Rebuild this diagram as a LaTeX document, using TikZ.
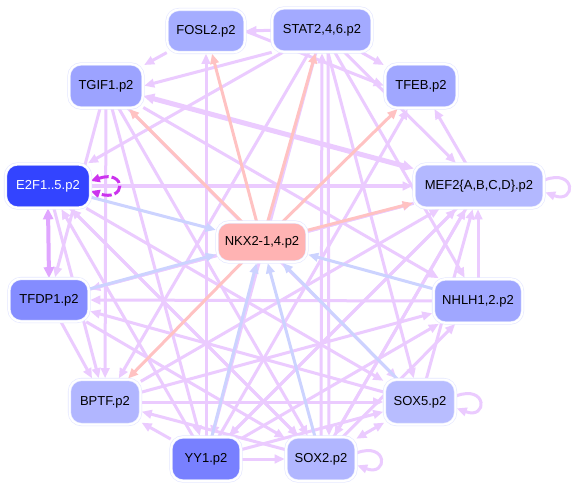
\documentclass[tikz,border=0pt]{standalone}
\usepackage{fontspec}
\setmainfont{Liberation Sans}
\usetikzlibrary{arrows.meta}
\pgfdeclarelayer{bg}
\pgfsetlayers{bg,main}
\definecolor{pur}{HTML}{EBCBFF}
\definecolor{pnk}{HTML}{FFC2C2}
\definecolor{blu}{HTML}{CCD3FF}
\definecolor{loopc}{HTML}{CC33EE}
\definecolor{edc}{HTML}{E0A6FF}
\definecolor{rim}{HTML}{E4E7FF}
\definecolor{cF}{HTML}{A5ADFF}
\definecolor{cS}{HTML}{A3AAFF}
\definecolor{cT}{HTML}{9CA3FF}
\definecolor{cB}{HTML}{A0A7FF}
\definecolor{cE}{HTML}{3344FF}
\definecolor{cM}{HTML}{B3B8FF}
\definecolor{cN}{HTML}{FFB3B3}
\definecolor{cD}{HTML}{848CFF}
\definecolor{cH}{HTML}{A0A7FF}
\definecolor{cP}{HTML}{B1B6FF}
\definecolor{cX}{HTML}{B8BDFF}
\definecolor{cY}{HTML}{7880FF}
\definecolor{cZ}{HTML}{B1B6FF}
\begin{document}
\begin{tikzpicture}[x=1pt,y=-1pt,
  nd/.style={draw=rim, line width=0.6pt, double=white, double distance=2pt,
    rounded corners=12pt, inner sep=0pt,
    font=\fontsize{13}{15}\selectfont, text=black},
  tip/.style={-{Triangle[length=10pt,width=8.5pt]}},
  pe/.style={draw=pur, line width=3pt, tip, shorten >=1pt},
  pk/.style={draw=pnk, line width=3pt, tip, shorten >=1pt},
  bl/.style={draw=blu, line width=3pt, tip, shorten >=1pt},
  thick2/.style={draw=pur, line width=5pt, {Triangle[length=11pt,width=10pt]}-{Triangle[length=11pt,width=10pt]}},
]
\useasboundingbox (0,0) rectangle (575,489);

\node[nd, fill=cF, minimum width=78pt, minimum height=43pt] (F) at (206,31) {FOSL2.p2};
\node[nd, fill=cS, minimum width=100pt, minimum height=44pt] (S) at (322,30) {STAT2,4,6.p2};
\node[nd, fill=cT, minimum width=74pt, minimum height=44pt] (T) at (106,86) {TGIF1.p2};
\node[nd, fill=cB, minimum width=72pt, minimum height=44pt] (B) at (421,86) {TFEB.p2};
\node[nd, fill=cE, minimum width=85pt, minimum height=44pt, text=white] (E) at (48,186) {E2F1..5.p2};
\node[nd, fill=cM, minimum width=130pt, minimum height=44pt] (M) at (479,186) {MEF2\{A,B,C,D\}.p2};
\node[nd, fill=cN, minimum width=90pt, minimum height=40pt] (N) at (262,242) {NKX2-1,4.p2};
\node[nd, fill=cD, minimum width=80pt, minimum height=43pt] (D) at (49,300) {TFDP1.p2};
\node[nd, fill=cH, minimum width=89pt, minimum height=44pt] (H) at (478,301) {NHLH1,2.p2};
\node[nd, fill=cP, minimum width=71pt, minimum height=45pt] (P) at (105,402) {BPTF.p2};
\node[nd, fill=cX, minimum width=71pt, minimum height=45pt] (X5) at (420,402) {SOX5.p2};
\node[nd, fill=cY, minimum width=70pt, minimum height=44pt] (Y) at (206,459) {YY1.p2};
\node[nd, fill=cZ, minimum width=70pt, minimum height=44pt] (X2) at (321,459) {SOX2.p2};

\begin{pgfonlayer}{bg}
\fill[white] (0,0) rectangle (575,489);
% purple edges
\draw[pe] (S) -- (F);
\draw[pe] (F) -- (T);
\draw[pe] (S.south west) -- (T.east);
\draw[pe] (S) -- (B);
\draw[pe] (F.east) -- (B.west);
\draw[pe] (S) -- (E);
\draw[thick2] (T) -- (M);
\draw[pe] (E) -- (M);
\draw[pe] (M) -- (B);
\draw[pe] (Y) -- (B);
\draw[pe] (Y.north) -- (F.south);
\draw[pe] (X2.north) -- (S.south);
\draw[pe] (S) -- (M);
\draw[pe] (S) -- (H);
\draw[pe] (S) -- (X5);
\draw[pe] ([xshift=6pt]S.south) -- ([xshift=8pt]X2.north);
\draw[pe] (S) -- (P);
\draw[pe] (S) -- (Y);
\draw[pe] (T) -- (D);
\draw[pe] (T) -- (P);
\draw[pe] (T) -- (Y);
\draw[pe] (T) -- (X2);
\draw[pe] (T) -- (X5);
\draw[pe] (T) -- (H);
\draw[pe] (Y) -- (E);
\draw[pe] (X2) -- (E);
\draw[pe] (E) -- (P);
\draw[pe] (E) -- (X5);
\draw[pe] (E) -- (X2);
\draw[pe] (D) -- (P);
\draw[pe] (H.west) -- (D.east);
\draw[pe] (M) -- (D);
\draw[pe] (X5) -- (D);
\draw[pe] (D) -- (X2);
\draw[pe] (D) -- (M);
\draw[pe] (Y) -- (M);
\draw[pe] (X2) -- (M);
\draw[pe] (X5) -- (M);
\draw[pe] (P) -- (M);
\draw[pe] (H.north) -- (H.north |- M.south);
\draw[pe] (Y) -- (H);
\draw[pe] (X2) -- (H);
\draw[pe] (P) -- (H);
\draw[pe] (P.east) -- (X5.west);
\draw[pe] (Y) -- (P);
\draw[pe] (X2) -- (P);
\draw[pe] (Y.east) -- (X2.west);
\draw[draw=pur, line width=3pt, {Triangle[length=10pt,width=8.5pt]}-{Triangle[length=10pt,width=8.5pt]}] (X5) -- (X2);
\draw[pe] (Y) -- (X5);
\draw[pe] (M) -- (X2);
\draw[pe] (M) -- (Y);
% self loops
\draw[pe] ([yshift=6pt]M.east) .. controls +(32,-12) and +(32,12) .. ([yshift=-6pt]M.east);
\draw[pe] ([yshift=6pt]X5.east) .. controls +(32,-12) and +(32,12) .. ([yshift=-6pt]X5.east);
\draw[pe] ([yshift=6pt]X2.east) .. controls +(32,-12) and +(32,12) .. ([yshift=-6pt]X2.east);
\draw[draw=loopc, line width=3pt, dashed, dash pattern=on 10pt off 3pt,
  {Triangle[length=9pt,width=8pt]}-{Triangle[length=9pt,width=8pt]}]
  ([yshift=5pt]E.east) .. controls +(36,-12) and +(36,12) .. ([yshift=-5pt]E.east);
\draw[draw=edc, line width=4pt, {Triangle[length=11pt,width=10pt]}-{Triangle[length=11pt,width=10pt]}] (E.south) -- (D.north);
% pink edges from NKX
\draw[pk] (N) -- (F);
\draw[pk] (N) -- (S);
\draw[pk] (N) -- (B);
\draw[pk] (N) -- (M);
\draw[pk] (N) -- (P);
\draw[pk] (N) -- (T);
% blue edges into NKX
\draw[bl] (E) -- (N);
\draw[bl] (D) -- (N);
\draw[bl] (H) -- (N);
\draw[bl] (Y) -- (N);
\draw[bl] (X2) -- (N);
\draw[bl] (X5) -- (N);
\end{pgfonlayer}
\end{tikzpicture}
\end{document}
